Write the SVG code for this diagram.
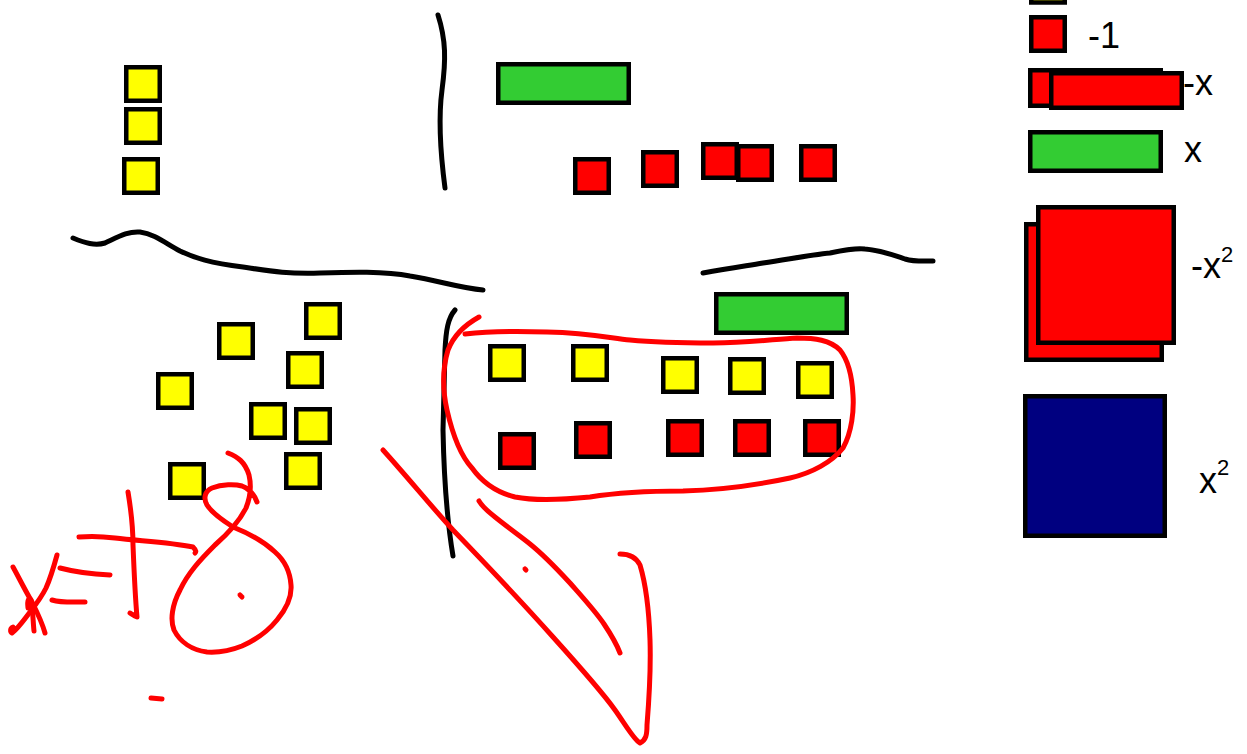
<svg xmlns="http://www.w3.org/2000/svg" width="1247" height="754" viewBox="0 0 1247 754">
<style>
.t{stroke:#000;stroke-width:4.5}
.y{fill:#ffff00}
.r{fill:#ff0000}
.g{fill:#33cc33}
.b{fill:#000080}
.ink{fill:none;stroke-linecap:round;stroke-linejoin:round;stroke-width:5}
.k{stroke:#000}
.rd{stroke:#ff0000}
.lbl{font-family:"Liberation Sans",Arial,sans-serif;font-size:36px;fill:#000}
</style>
<rect width="1247" height="754" fill="#fff"/>
<g id="dividers">
<path class="ink k" d="M438,15 C446,40 446,60 442,90 C438,120 440,150 445,188"/>
<path class="ink k" d="M73,238 C85,243 95,246 105,243 C118,237 128,231 140,232 C155,234 165,243 180,251 C195,258 210,263 243,267 C270,271 285,274 320,273 C350,272 385,271 410,276 C440,281 460,288 483,290"/>
<path class="ink k" d="M703,273 C730,268 745,266 763,263 C790,259 810,255 830,253 C845,250 855,248 865,249 C880,250 893,255 905,259 C915,262 925,261 933,261"/>
<path class="ink k" d="M455,310 C448,318 446,330 445,350 L443,430 C444,480 447,520 453,556"/>
</g>
<g id="top-left">
<rect class="t y" x="126.25" y="67.25" width="33.5" height="33.5"/>
<rect class="t y" x="126.25" y="109.25" width="33.5" height="33.5"/>
<rect class="t y" x="124.25" y="159.25" width="33.5" height="33.5"/>
</g>
<g id="top-right">
<rect class="t g" x="498.25" y="64.25" width="130.5" height="38.5"/>
<rect class="t r" x="575.25" y="159.25" width="33.5" height="33.5"/>
<rect class="t r" x="643.25" y="152.25" width="33.5" height="33.5"/>
<rect class="t r" x="703.25" y="144.25" width="33.5" height="33.5"/>
<rect class="t r" x="738.25" y="146.25" width="33.5" height="33.5"/>
<rect class="t r" x="801.25" y="146.25" width="33.5" height="33.5"/>
</g>
<g id="bottom-left">
<rect class="t y" x="219.25" y="324.25" width="33.5" height="33.5"/>
<rect class="t y" x="306.25" y="304.25" width="33.5" height="33.5"/>
<rect class="t y" x="158.25" y="374.25" width="33.5" height="33.5"/>
<rect class="t y" x="288.25" y="353.25" width="33.5" height="33.5"/>
<rect class="t y" x="251.25" y="404.25" width="33.5" height="33.5"/>
<rect class="t y" x="296.25" y="409.25" width="33.5" height="33.5"/>
<rect class="t y" x="286.25" y="454.25" width="33.5" height="33.5"/>
<rect class="t y" x="170.25" y="464.25" width="33.5" height="33.5"/>
</g>
<g id="bottom-right">
<rect class="t g" x="716.25" y="294.25" width="130.5" height="38.5"/>
<rect class="t y" x="490.25" y="346.25" width="33.5" height="33.5"/>
<rect class="t y" x="573.25" y="346.25" width="33.5" height="33.5"/>
<rect class="t y" x="663.25" y="358.25" width="33.5" height="33.5"/>
<rect class="t y" x="730.25" y="359.25" width="33.5" height="33.5"/>
<rect class="t y" x="798.25" y="363.25" width="33.5" height="33.5"/>
<rect class="t r" x="500.25" y="434.25" width="33.5" height="33.5"/>
<rect class="t r" x="576.25" y="423.25" width="33.5" height="33.5"/>
<rect class="t r" x="668.25" y="421.25" width="33.5" height="33.5"/>
<rect class="t r" x="735.25" y="421.25" width="33.5" height="33.5"/>
<rect class="t r" x="805.25" y="421.25" width="33.5" height="33.5"/>
</g>
<g id="legend">
<rect class="t y" x="1031.25" y="-31" width="33.5" height="33.5"/>
<rect class="t r" x="1031.25" y="17.25" width="33.5" height="33.5"/>
<text class="lbl" x="1088" y="48">-1</text>
<rect class="t r" x="1030.25" y="70.25" width="130.5" height="35.5"/>
<rect class="t r" x="1051.25" y="73.25" width="130.5" height="34.5"/>
<text class="lbl" x="1183" y="95">-x</text>
<rect class="t g" x="1030.25" y="132.25" width="130.5" height="38.5"/>
<text class="lbl" x="1184" y="162">x</text>
<rect class="t r" x="1026.25" y="224.25" width="135.5" height="135.5"/>
<rect class="t r" x="1038.25" y="207.25" width="135.5" height="135.5"/>
<text class="lbl" x="1191" y="278">-x<tspan font-size="22" dy="-16">2</tspan></text>
<rect class="t b" x="1025.25" y="396.25" width="139.5" height="139.5"/>
<text class="lbl" x="1199" y="493">x<tspan font-size="22" dy="-18">2</tspan></text>
</g>
<g id="annotations">
<path class="ink rd" d="M479,317 C470,322 455,332 448,350 C442,370 443,392 447,410 C452,432 460,455 472,468 C482,482 495,492 515,497 C535,501 560,500 590,497 C615,493 640,491 683,491 C720,490 757,485 790,478 C812,473 832,462 843,448 C852,432 854,410 853,395 C852,375 848,360 840,350 C830,340 815,338 797,338 C775,339 750,343 713,343 C680,343 650,342 630,340 C610,338 590,333 547,332 C520,331 490,331 465,334"/>
<path class="ink rd" d="M383,450 C410,480 430,505 453,530 C480,558 520,600 553,637 C580,667 603,693 615,710 C625,724 634,740 640,743 C646,740 647,735 647,725 C649,700 651,670 650,640 C649,610 646,585 640,565 C636,557 630,554 620,554"/>
<path class="ink rd" d="M479,501 C482,506 486,510 495,517 C510,529 520,536 530,544 C545,556 558,570 570,583 C585,600 596,612 604,624 C612,636 617,645 620,653"/>
<path class="ink rd" d="M525,569 L526,570"/>
<path class="ink rd" d="M13,567 C18,576 25,590 32,602 C37,612 42,622 45,633"/>
<path class="ink rd" d="M57,555 C54,566 51,577 46,588 C40,600 33,608 27,616 C21,624 16,630 12,633 C10,632 10,628 13,627"/>
<path class="ink rd" d="M28,608 C27,600 29,597 31,600 C33,610 33,622 34,631"/>
<path class="ink rd" d="M60,568 C75,572 90,574 110,575"/>
<path class="ink rd" d="M52,600 C62,603 73,602 85,602"/>
<path class="ink rd" d="M79,537 C90,536 100,536 115,538 C140,541 170,542 193,547 C196,550 196,552 195,553"/>
<path class="ink rd" d="M128,492 C131,510 133,525 133,545 C134,570 135,595 137,617 C134,616 132,614 130,613"/>
<path class="ink rd" d="M228,453 C238,457 245,462 249,475 C252,488 250,498 246,508 C240,520 230,532 215,545 C200,560 188,573 180,590 C172,605 170,620 174,630 C180,642 192,650 207,652 C222,653 232,650 242,646 C258,639 268,631 277,620 C287,608 292,597 291,585 C290,570 284,560 275,552 C262,540 248,533 233,527 C222,520 212,513 207,505 C203,498 205,491 212,488 C222,484 235,484 242,486 C250,489 254,494 257,502"/>
<path class="ink rd" d="M240,595 L242,597"/>
<path class="ink rd" d="M151,698 L162,699"/>
</g>
</svg>
